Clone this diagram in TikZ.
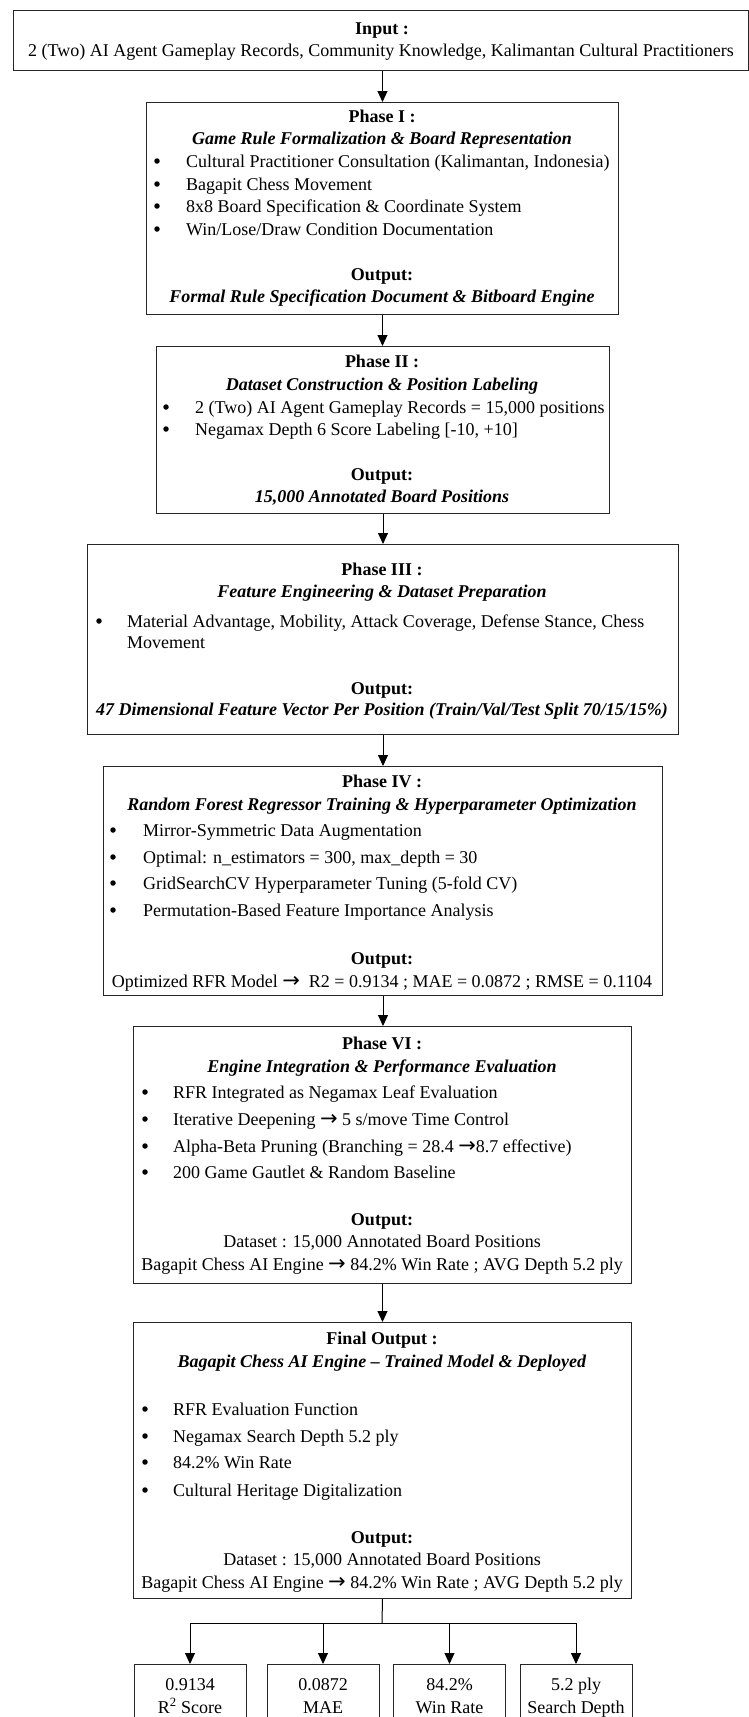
\documentclass[tikz,border=0pt]{standalone}
\usepackage{fontspec}
\setmainfont{Liberation Serif}
\newfontfamily\arfont{DejaVu Sans}
\usetikzlibrary{arrows.meta}
\newcommand{\fsz}{\fontsize{18}{21}\selectfont}
\newcommand{\rar}{{\arfont\fontsize{21}{21}\selectfont →}}
\begin{document}
\begin{tikzpicture}[x=1pt,y=-1pt,font=\fsz,
  box/.style={draw=black!85,line width=1pt,inner sep=0pt,anchor=north west},
  t/.style={inner sep=0pt,anchor=base},
  tl/.style={inner sep=0pt,anchor=base west},
  dot/.style={circle,fill=black,inner sep=0pt,minimum size=5.5pt},
  arr/.style={line width=1pt,draw=black,-{Triangle[length=11pt,width=10pt]}},
  ln/.style={line width=1pt,draw=black}]
\useasboundingbox (0,0) rectangle (749,1717);

% ---------- boxes ----------
\node[box,minimum width=735pt,minimum height=60pt] (p0) at (13,10) {};
\node[box,minimum width=472pt,minimum height=212pt] (p1) at (146,102) {};
\node[box,minimum width=453pt,minimum height=167pt] (p2) at (156,346) {};
\node[box,minimum width=591pt,minimum height=190pt] (p3) at (87,544) {};
\node[box,minimum width=559pt,minimum height=229pt] (p4) at (103,766) {};
\node[box,minimum width=498pt,minimum height=257pt] (p6) at (133,1026) {};
\node[box,minimum width=498pt,minimum height=276pt] (pf) at (133,1322) {};
\node[box,minimum width=112pt,minimum height=70pt] (m1) at (133.5,1664) {};
\node[box,minimum width=112pt,minimum height=70pt] (m2) at (266.5,1664) {};
\node[box,minimum width=112pt,minimum height=70pt] (m3) at (393,1664) {};
\node[box,minimum width=112pt,minimum height=70pt] (m4) at (519.5,1664) {};

% ---------- input ----------
\node[t] (i0a) at (382,34) {\textbf{Input :}};
\node[t] (i0b) at (381,56) {2 (Two) AI Agent Gameplay Records, Community Knowledge, Kalimantan Cultural Practitioners};

% ---------- phase I ----------
\node[t] (p1a) at (382,122) {\textbf{Phase I :}};
\node[t] (p1b) at (382,144) {\textbf{\textit{Game Rule Formalization \& Board Representation}}};
\node[dot] (p1c1d) at (157,161) {};
\node[tl] (p1c1) at (186,167) {Cultural Practitioner Consultation (Kalimantan, Indonesia)};
\node[dot] (p1c2d) at (157,184) {};
\node[tl] (p1c2) at (186,190) {Bagapit Chess Movement};
\node[dot] (p1c3d) at (157,206) {};
\node[tl] (p1c3) at (186,212) {8x8 Board Specification \& Coordinate System};
\node[dot] (p1c4d) at (157,229) {};
\node[tl] (p1c4) at (186,235) {Win/Lose/Draw Condition Documentation};
\node[t] (p1o) at (382,280) {\textbf{Output:}};
\node[t] (p1v) at (382,302) {\textbf{\textit{Formal Rule Specification Document \& Bitboard Engine}}};

% ---------- phase II ----------
\node[t] (p2a) at (382,367) {\textbf{Phase II :}};
\node[t] (p2b) at (382,390) {\textbf{\textit{Dataset Construction \& Position Labeling}}};
\node[dot] (p2c1d) at (166,407) {};
\node[tl] (p2c1) at (195,413) {2 (Two) AI Agent Gameplay Records = 15,000 positions};
\node[dot] (p2c2d) at (166,429) {};
\node[tl] (p2c2) at (195,435) {Negamax Depth 6 Score Labeling [-10, +10]};
\node[t] (p2o) at (382,480) {\textbf{Output:}};
\node[t] (p2v) at (382,502) {\textbf{\textit{15,000 Annotated Board Positions}}};

% ---------- phase III ----------
\node[t] (p3a) at (382,575) {\textbf{Phase III :}};
\node[t] (p3b) at (382,597) {\textbf{\textit{Feature Engineering \& Dataset Preparation}}};
\node[dot] (p3c1d) at (99,621) {};
\node[tl] (p3c1) at (127,627) {Material Advantage, Mobility, Attack Coverage, Defense Stance, Chess};
\node[tl] (p3c1b) at (127,648) {Movement};
\node[t] (p3o) at (382,694) {\textbf{Output:}};
\node[t] (p3v) at (382,715) {\textbf{\textit{47 Dimensional Feature Vector Per Position (Train/Val/Test Split 70/15/15\%)}}};

% ---------- phase IV ----------
\node[t] (p4a) at (382,787) {\textbf{Phase IV :}};
\node[t] (p4b) at (382,810) {\textbf{\textit{Random Forest Regressor Training \& Hyperparameter Optimization}}};
\node[dot] (p4c1d) at (113,830) {};
\node[tl] (p4c1) at (143,836) {Mirror-Symmetric Data Augmentation};
\node[dot] (p4c2d) at (113,857) {};
\node[tl] (p4c2) at (143,863) {Optimal: n\_estimators = 300, max\_depth = 30};
\node[dot] (p4c3d) at (113,883) {};
\node[tl] (p4c3) at (143,889) {GridSearchCV Hyperparameter Tuning (5-fold CV)};
\node[dot] (p4c4d) at (113,910) {};
\node[tl] (p4c4) at (143,916) {Permutation-Based Feature Importance Analysis};
\node[t] (p4o) at (382,964) {\textbf{Output:}};
\node[t] (p4v) at (382,987) {Optimized RFR Model \rar\ \ R2 = 0.9134 ; MAE = 0.0872 ; RMSE = 0.1104};

% ---------- phase VI ----------
\node[t] (p6a) at (382,1049) {\textbf{Phase VI :}};
\node[t] (p6b) at (382,1072) {\textbf{\textit{Engine Integration \& Performance Evaluation}}};
\node[dot] (p6c1d) at (145,1092) {};
\node[tl] (p6c1) at (173,1098) {RFR Integrated as Negamax Leaf Evaluation};
\node[dot] (p6c2d) at (145,1119) {};
\node[tl] (p6c2) at (173,1125) {Iterative Deepening \rar\ 5 s/move Time Control};
\node[dot] (p6c3d) at (145,1146) {};
\node[tl] (p6c3) at (173,1152) {Alpha-Beta Pruning (Branching = 28.4 \rar8.7 effective)};
\node[dot] (p6c4d) at (145,1172) {};
\node[tl] (p6c4) at (173,1178) {200 Game Gautlet \& Random Baseline};
\node[t] (p6o) at (382,1225) {\textbf{Output:}};
\node[t] (p6v1) at (382,1247) {Dataset : 15,000 Annotated Board Positions};
\node[t] (p6v2) at (382,1270) {Bagapit Chess AI Engine \rar\ 84.2\% Win Rate ; AVG Depth 5.2 ply};

% ---------- final ----------
\node[t] (pfa) at (382,1344) {\textbf{Final Output :}};
\node[t] (pfb) at (382,1367) {\textbf{\textit{Bagapit Chess AI Engine – Trained Model \& Deployed}}};
\node[dot] (pfc1d) at (145,1409) {};
\node[tl] (pfc1) at (173,1415) {RFR Evaluation Function};
\node[dot] (pfc2d) at (145,1436) {};
\node[tl] (pfc2) at (173,1442) {Negamax Search Depth 5.2 ply};
\node[dot] (pfc3d) at (145,1462) {};
\node[tl] (pfc3) at (173,1468) {84.2\% Win Rate};
\node[dot] (pfc4d) at (145,1490) {};
\node[tl] (pfc4) at (173,1496) {Cultural Heritage Digitalization};
\node[t] (pfo) at (382,1543) {\textbf{Output:}};
\node[t] (pfv1) at (382,1565) {Dataset : 15,000 Annotated Board Positions};
\node[t] (pfv2) at (382,1588) {Bagapit Chess AI Engine \rar\ 84.2\% Win Rate ; AVG Depth 5.2 ply};

% ---------- metric boxes text ----------
\node[t] (m1a) at (m1.north |- 0,1690) {0.9134};
\node[t] (m1b) at (m1.north |- 0,1713) {R\textsuperscript{2} Score};
\node[t] (m2a) at (m2.north |- 0,1690) {0.0872};
\node[t] (m2b) at (m2.north |- 0,1713) {MAE};
\node[t] (m3a) at (m3.north |- 0,1690) {84.2\%};
\node[t] (m3b) at (m3.north |- 0,1713) {Win Rate};
\node[t] (m4a) at (m4.north |- 0,1690) {5.2 ply};
\node[t] (m4b) at (m4.north |- 0,1713) {Search Depth};

% ---------- connectors ----------
\draw[arr] (p1.north |- p0.south) -- (p1.north);
\draw[arr] (p1.south) -- (p2.north -| p1.south);
\draw[arr] (p2.south) -- (p3.north -| p2.south);
\draw[arr] (p3.south) -- (p4.north -| p3.south);
\draw[arr] (p4.south) -- (p6.north -| p4.south);
\draw[arr] (p6.south) -- (pf.north);
\coordinate (j) at (382,1623);
\draw[ln] (pf.south) -- (j);
\draw[ln] (m1.north |- j) -- (m4.north |- j);
\draw[arr] (m1.north |- j) -- (m1.north);
\draw[arr] (m2.north |- j) -- (m2.north);
\draw[arr] (m3.north |- j) -- (m3.north);
\draw[arr] (m4.north |- j) -- (m4.north);
\end{tikzpicture}
\end{document}
